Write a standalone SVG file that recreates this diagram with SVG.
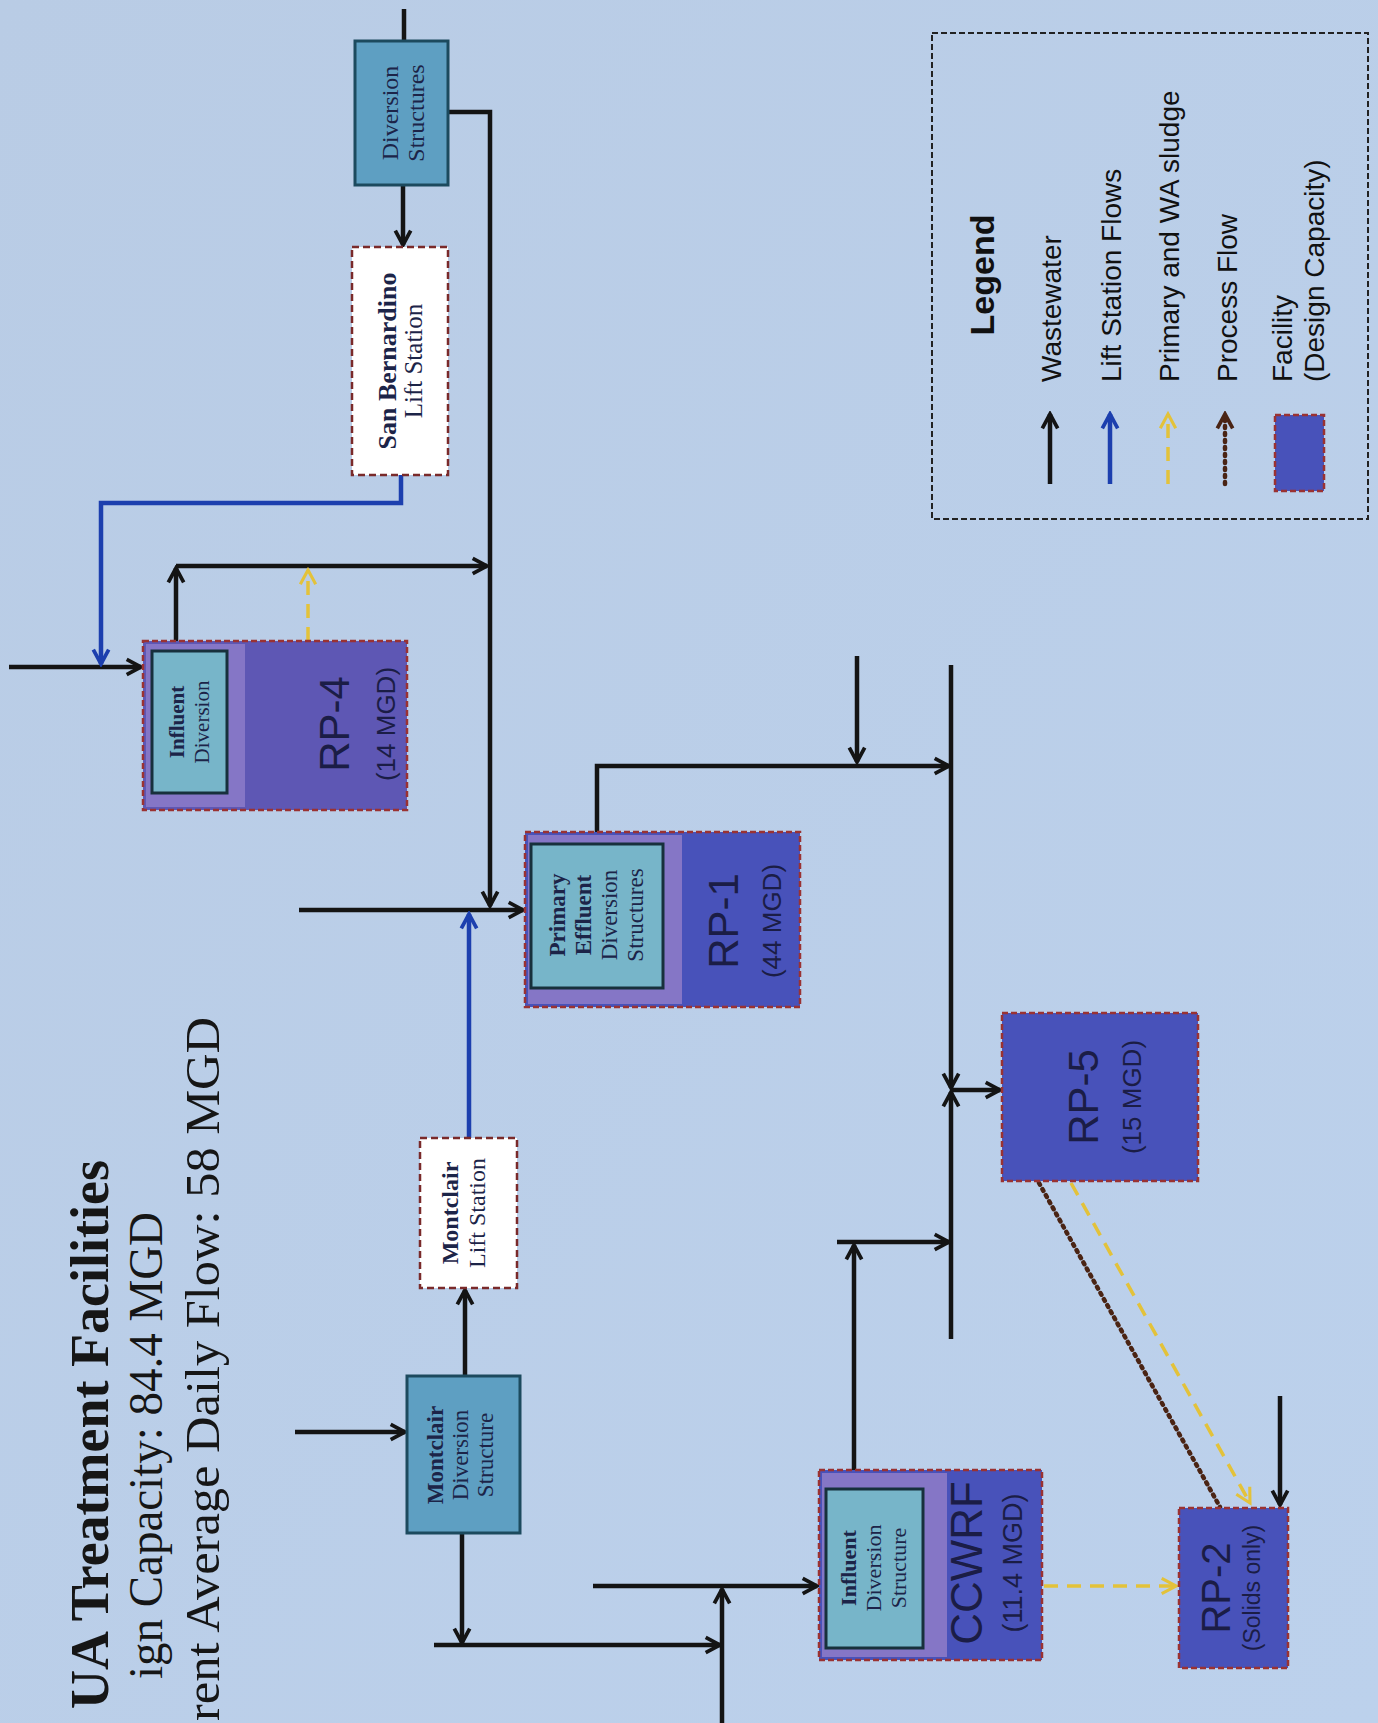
<svg xmlns="http://www.w3.org/2000/svg" width="1378" height="1723" viewBox="0 0 1378 1723">
<style>
.ser{font-family:"Liberation Serif","DejaVu Serif",serif;fill:#1c2448}
.san{font-family:"Liberation Sans",Arial,sans-serif}
.title{font-family:"Liberation Serif","DejaVu Serif",serif;fill:#161616}
.w{fill:none;stroke:#141414;stroke-width:4.5}
.b{fill:none;stroke:#1c3fae;stroke-width:4.5}
.y{fill:none;stroke:#e3c23a;stroke-width:3.5;stroke-dasharray:14 9}
.p{fill:none;stroke:#4a2414;stroke-width:4.5;stroke-dasharray:2 5;stroke-linecap:round}
.ds{fill:#5e9fc2;stroke:#1c4a5e;stroke-width:3}
.ls{fill:#ffffff;stroke:#7a2a2a;stroke-width:2.5;stroke-dasharray:7 4}
.fac{fill:#4852ba}
.fac4{fill:#5e57b4}
.band{fill:#8576c6}
.inner{fill:#77b5c9;stroke:#17303c;stroke-width:3}
.facb{fill:none;stroke:#9a3232;stroke-width:2.5;stroke-dasharray:6 3}
.lab{font-family:"Liberation Sans",Arial,sans-serif;fill:#1b1d46}
</style>
<defs>
<linearGradient id="bg" x1="0" y1="0" x2="1" y2="1">
<stop offset="0" stop-color="#b9cce5"/>
<stop offset="1" stop-color="#bcd1ec"/>
</linearGradient>
<marker id="aw" viewBox="0 0 20 20" refX="17" refY="10" markerWidth="22" markerHeight="22" markerUnits="userSpaceOnUse" orient="auto"><path d="M4,3 L17,10 L4,17" fill="none" stroke="#141414" stroke-width="3.4"/></marker>
<marker id="ab" viewBox="0 0 20 20" refX="17" refY="10" markerWidth="22" markerHeight="22" markerUnits="userSpaceOnUse" orient="auto"><path d="M4,3 L17,10 L4,17" fill="none" stroke="#1c3fae" stroke-width="3.4"/></marker>
<marker id="ay" viewBox="0 0 20 20" refX="17" refY="10" markerWidth="22" markerHeight="22" markerUnits="userSpaceOnUse" orient="auto"><path d="M4,3 L17,10 L4,17" fill="none" stroke="#e3c23a" stroke-width="2.8"/></marker>
<marker id="ap" viewBox="0 0 20 20" refX="17" refY="10" markerWidth="22" markerHeight="22" markerUnits="userSpaceOnUse" orient="auto"><path d="M4,3 L17,10 L4,17" fill="none" stroke="#4a2414" stroke-width="3.4"/></marker>
</defs>
<rect width="1378" height="1723" fill="url(#bg)"/>

<g id="title">
<text class="title" font-weight="bold" font-size="54" text-anchor="end" transform="translate(108,1160) rotate(-90)">UA Treatment Facilities</text>
<text class="title" font-size="48" text-anchor="end" textLength="467" lengthAdjust="spacingAndGlyphs" transform="translate(162,1212) rotate(-90)">ign Capacity: 84.4 MGD</text>
<text class="title" font-size="48" text-anchor="end" textLength="704" lengthAdjust="spacingAndGlyphs" transform="translate(219,1017) rotate(-90)">rent Average Daily Flow: 58 MGD</text>
</g>

<g id="connectors">
<path class="w" d="M404,9 V41"/>
<path class="w" d="M403,185 V245" marker-end="url(#aw)"/>
<path class="w" d="M448,112 H490 V906" marker-end="url(#aw)"/>
<path class="w" d="M9,667 H141" marker-end="url(#aw)"/>
<path class="w" d="M176,651 V568" marker-end="url(#aw)"/>
<path class="w" d="M176,566 H487" marker-end="url(#aw)"/>
<path class="w" d="M299,910 H523" marker-end="url(#aw)"/>
<path class="w" d="M597,843 V766 H949" marker-end="url(#aw)"/>
<path class="w" d="M857,656 V762" marker-end="url(#aw)"/>
<path class="w" d="M951,665 V1088" marker-end="url(#aw)"/>
<path class="w" d="M951,1339 V1092" marker-end="url(#aw)"/>
<path class="w" d="M951,1090 H1000" marker-end="url(#aw)"/>
<path class="w" d="M837,1242 H949" marker-end="url(#aw)"/>
<path class="w" d="M854,1492 V1245" marker-end="url(#aw)"/>
<path class="w" d="M295,1432 H405" marker-end="url(#aw)"/>
<path class="w" d="M465,1376 V1290" marker-end="url(#aw)"/>
<path class="w" d="M462,1533 V1643" marker-end="url(#aw)"/>
<path class="w" d="M434,1645 H720" marker-end="url(#aw)"/>
<path class="w" d="M722,1723 V1589" marker-end="url(#aw)"/>
<path class="w" d="M593,1586 H817" marker-end="url(#aw)"/>
<path class="w" d="M1280,1396 V1505" marker-end="url(#aw)"/>
<path class="b" d="M401,475 V503 H101 V664" marker-end="url(#ab)"/>
<path class="b" d="M469,1138 V914" marker-end="url(#ab)"/>
<path class="y" d="M308,641 V570" marker-end="url(#ay)"/>
<path class="y" d="M1071,1183 L1250,1503" marker-end="url(#ay)"/>
<path class="y" d="M1044,1586 H1176" marker-end="url(#ay)"/>
<path class="p" d="M1039,1183 L1220,1507"/>
</g>

<g id="diversion-structures">
<rect class="ds" x="355" y="41" width="93" height="144"/>
<text class="ser" font-size="24" text-anchor="middle" transform="translate(398,113) rotate(-90)">Diversion</text>
<text class="ser" font-size="24" text-anchor="middle" transform="translate(424,113) rotate(-90)">Structures</text>
</g>

<g id="san-bernardino-lift-station">
<rect class="ls" x="352" y="247" width="96" height="228"/>
<text class="ser" font-size="26" font-weight="bold" fill="#111" text-anchor="middle" transform="translate(396,361) rotate(-90)">San Bernardino</text>
<text class="ser" font-size="25" text-anchor="middle" transform="translate(422,361) rotate(-90)">Lift Station</text>
</g>

<g id="rp4">
<rect class="fac4" x="143" y="641" width="264" height="169"/>
<rect class="band" x="146" y="644" width="99" height="163"/>
<rect class="inner" x="152" y="651" width="75" height="142"/>
<rect class="facb" x="143" y="641" width="264" height="169"/>
<text class="ser" font-size="21" font-weight="bold" text-anchor="middle" transform="translate(184,722) rotate(-90)">Influent</text>
<text class="ser" font-size="21" text-anchor="middle" transform="translate(209,722) rotate(-90)">Diversion</text>
<text class="lab" font-size="42" text-anchor="middle" transform="translate(349,724) rotate(-90)">RP-4</text>
<text class="lab" font-size="26" text-anchor="middle" transform="translate(395,724) rotate(-90)">(14 MGD)</text>
</g>

<g id="rp1">
<rect class="fac" x="525" y="832" width="275" height="175"/>
<rect class="band" x="528" y="835" width="154" height="169"/>
<rect class="inner" x="531" y="844" width="132" height="144"/>
<rect class="facb" x="525" y="832" width="275" height="175"/>
<text class="ser" font-size="23" font-weight="bold" text-anchor="middle" transform="translate(565,915) rotate(-90)">Primary</text>
<text class="ser" font-size="23" font-weight="bold" text-anchor="middle" transform="translate(591,915) rotate(-90)">Effluent</text>
<text class="ser" font-size="23" text-anchor="middle" transform="translate(617,915) rotate(-90)">Diversion</text>
<text class="ser" font-size="23" text-anchor="middle" transform="translate(643,915) rotate(-90)">Structures</text>
<text class="lab" font-size="42" text-anchor="middle" transform="translate(738,921) rotate(-90)">RP-1</text>
<text class="lab" font-size="26" text-anchor="middle" transform="translate(781,921) rotate(-90)">(44 MGD)</text>
</g>

<g id="montclair-lift-station">
<rect class="ls" x="420" y="1138" width="97" height="150"/>
<text class="ser" font-size="24" font-weight="bold" fill="#111" text-anchor="middle" transform="translate(458,1213) rotate(-90)">Montclair</text>
<text class="ser" font-size="24" text-anchor="middle" transform="translate(485,1213) rotate(-90)">Lift Station</text>
</g>

<g id="montclair-diversion-structure">
<rect class="ds" x="407" y="1376" width="113" height="157"/>
<text class="ser" font-size="23" font-weight="bold" text-anchor="middle" transform="translate(443,1455) rotate(-90)">Montclair</text>
<text class="ser" font-size="23" text-anchor="middle" transform="translate(468,1455) rotate(-90)">Diversion</text>
<text class="ser" font-size="23" text-anchor="middle" transform="translate(493,1455) rotate(-90)">Structure</text>
</g>

<g id="rp5">
<rect class="fac" x="1002" y="1013" width="196" height="168"/>
<rect class="facb" x="1002" y="1013" width="196" height="168"/>
<text class="lab" font-size="42" text-anchor="middle" transform="translate(1098,1097) rotate(-90)">RP-5</text>
<text class="lab" font-size="26" text-anchor="middle" transform="translate(1141,1097) rotate(-90)">(15 MGD)</text>
</g>

<g id="ccwrf">
<rect class="fac" x="819" y="1470" width="223" height="190"/>
<rect class="band" x="822" y="1473" width="125" height="184"/>
<rect class="inner" x="826" y="1489" width="97" height="159"/>
<rect class="facb" x="819" y="1470" width="223" height="190"/>
<text class="ser" font-size="22" font-weight="bold" text-anchor="middle" transform="translate(856,1568) rotate(-90)">Influent</text>
<text class="ser" font-size="22" text-anchor="middle" transform="translate(881,1568) rotate(-90)">Diversion</text>
<text class="ser" font-size="22" text-anchor="middle" transform="translate(906,1568) rotate(-90)">Structure</text>
<text class="lab" font-size="44" text-anchor="middle" transform="translate(982,1563) rotate(-90)">CCWRF</text>
<text class="lab" font-size="27" text-anchor="middle" transform="translate(1022,1563) rotate(-90)">(11.4 MGD)</text>
</g>

<g id="rp2">
<rect class="fac" x="1179" y="1508" width="109" height="160"/>
<rect class="facb" x="1179" y="1508" width="109" height="160"/>
<text class="lab" font-size="40" text-anchor="middle" transform="translate(1230,1588) rotate(-90)">RP-2</text>
<text class="lab" font-size="23" text-anchor="middle" transform="translate(1260,1588) rotate(-90)">(Solids only)</text>
</g>

<g id="legend">
<rect x="932" y="33" width="436" height="486" fill="none" stroke="#222" stroke-width="2" stroke-dasharray="6 3"/>
<text class="san" font-size="34" font-weight="bold" fill="#111" text-anchor="middle" transform="translate(994,275) rotate(-90)">Legend</text>
<path class="w" d="M1050,484 V414" marker-end="url(#aw)"/>
<path class="b" d="M1110,484 V414" marker-end="url(#ab)"/>
<path class="y" d="M1168,484 V414" marker-end="url(#ay)"/>
<path class="p" d="M1225,484 V414" marker-end="url(#ap)"/>
<rect class="fac" x="1275" y="415" width="49" height="76"/>
<rect class="facb" x="1275" y="415" width="49" height="76"/>
<text class="san" font-size="28" fill="#111" transform="translate(1061,382) rotate(-90)">Wastewater</text>
<text class="san" font-size="28" fill="#111" transform="translate(1121,382) rotate(-90)">Lift Station Flows</text>
<text class="san" font-size="28" fill="#111" transform="translate(1179,382) rotate(-90)">Primary and WA sludge</text>
<text class="san" font-size="28" fill="#111" transform="translate(1237,382) rotate(-90)">Process Flow</text>
<text class="san" font-size="28" fill="#111" transform="translate(1292,382) rotate(-90)">Facility</text>
<text class="san" font-size="28" fill="#111" transform="translate(1324,382) rotate(-90)">(Design Capacity)</text>
</g>
</svg>
